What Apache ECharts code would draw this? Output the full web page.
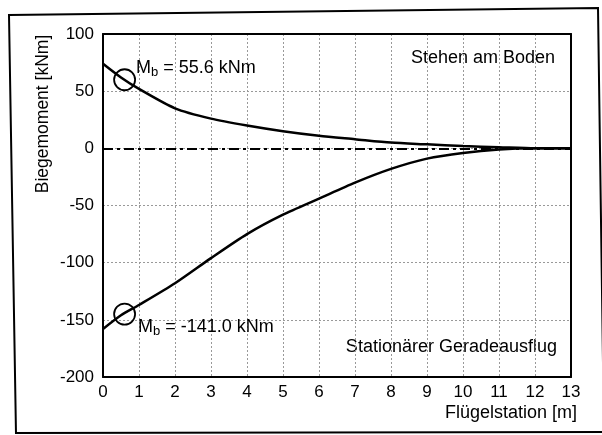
<!DOCTYPE html>
<html>
<head>
<meta charset="utf-8">
<script src="https://cdn.jsdelivr.net/npm/echarts@6/dist/echarts.min.js"></script>
<style>html,body{margin:0;padding:0;background:#fff;}#c{width:602px;height:435px;}</style>
</head>
<body>
<div id="c"></div>
<script>
// Data
const stations = [0, 0.5, 1, 2, 3, 4, 5, 6, 7, 8, 9, 10, 11, 12, 13];
const standingMoment = [74, 62, 52, 35, 26, 20, 15, 11, 8, 5, 3.5, 2, 1, 0, 0];
const flightMoment = [-158, -146, -137, -118, -96, -75, -58, -44, -30, -18, -9, -4, -1, 0, 0];
const markerStation = 0.6;
const markerStanding = 60;
const markerFlight = -145;
const xTicks = [0,1,2,3,4,5,6,7,8,9,10,11,12,13];
const yTicks = [-200,-150,-100,-50,0,50,100];
const labelStanding = 'Stehen am Boden';
const labelFlight = 'Stationärer Geradeausflug';

const FONT = '"Liberation Sans", Arial, sans-serif';
const INK = '#000';
const chart = echarts.init(document.getElementById('c'), null, {renderer: 'canvas'});

const rich = {
  a: {fontSize: 18, fontFamily: FONT, color: INK},
  s: {fontSize: 13, fontFamily: FONT, color: INK, padding: [9, 0, 0, 0]}
};

const gridLine = {show: true, lineStyle: {color: '#999', type: [2, 2], width: 1}};

chart.setOption({
  backgroundColor: '#fff',
  animation: false,
  grid: {left: 103, right: 31, top: 34, bottom: 58, show: false},
  xAxis: [{
    type: 'value', min: 0, max: 13, interval: 1,
    axisLine: {show: true, onZero: false, lineStyle: {color: INK, width: 2}},
    axisTick: {show: false},
    axisLabel: {fontSize: 17, fontFamily: FONT, color: INK, margin: 7,
      formatter: v => xTicks.includes(v) ? String(v) : ''},
    splitLine: gridLine
  }, {
    type: 'value', min: 0, max: 13, interval: 1, position: 'top',
    axisLine: {show: true, onZero: false, lineStyle: {color: INK, width: 2}},
    axisTick: {show: false}, axisLabel: {show: false}, splitLine: {show: false}
  }],
  yAxis: [{
    type: 'value', min: -200, max: 100, interval: 50,
    axisLine: {show: true, onZero: false, lineStyle: {color: INK, width: 2}},
    axisTick: {show: false},
    axisLabel: {fontSize: 17, fontFamily: FONT, color: INK, margin: 9,
      formatter: v => yTicks.includes(v) ? String(v) : ''},
    splitLine: gridLine
  }, {
    type: 'value', min: -200, max: 100, interval: 50, position: 'right',
    axisLine: {show: true, onZero: false, lineStyle: {color: INK, width: 2}},
    axisTick: {show: false}, axisLabel: {show: false}, splitLine: {show: false}
  }],
  series: [
    {
      name: labelStanding, type: 'line', symbol: 'none', smooth: 0.25,
      data: stations.map((x, i) => [x, standingMoment[i]]),
      lineStyle: {color: INK, width: 2.5},
      markLine: {
        silent: true, symbol: 'none', label: {show: false},
        lineStyle: {color: INK, width: 1.8, type: [10, 4, 3, 4]},
        data: [{yAxis: 0}]
      },
      z: 3
    },
    {
      name: labelFlight, type: 'line', symbol: 'none', smooth: 0.25,
      data: stations.map((x, i) => [x, flightMoment[i]]),
      lineStyle: {color: INK, width: 2.5},
      z: 3
    },
    {
      type: 'scatter', symbol: 'circle', symbolSize: 21,
      itemStyle: {color: 'rgba(0,0,0,0)', borderColor: INK, borderWidth: 1.8, opacity: 1},
      emphasis: {disabled: true},
      data: [
        {value: [markerStation, markerStanding],
          label: {show: true, position: 'right', distance: 0, offset: [0, -12], color: INK, textBorderWidth: 0,
            formatter: '{a|M}{s|b}{a| = 55.6 kNm}', rich: rich}},
        {value: [markerStation, markerFlight],
          label: {show: true, position: 'right', distance: 0, offset: [2, 13], color: INK, textBorderWidth: 0,
            formatter: '{a|M}{s|b}{a| = -141.0 kNm}', rich: rich}}
      ],
      z: 4
    }
  ],
  graphic: [
    {type: 'polyline', shape: {points: [[16, 434], [9, 15], [598, 8], [604, 434]]},
      style: {stroke: INK, lineWidth: 2, fill: null}, silent: true},
    {type: 'line', shape: {x1: 16, y1: 433, x2: 602, y2: 432},
      style: {stroke: INK, lineWidth: 2}, silent: true},
    {type: 'text', x: 43, y: 114, rotation: Math.PI / 2,
      style: {text: 'Biegemoment [kNm]', font: '17.5px ' + FONT, fill: INK, align: 'center', verticalAlign: 'middle'}},
    {type: 'text', x: 577, y: 413,
      style: {text: 'Flügelstation [m]', font: '18px ' + FONT, fill: INK, align: 'right', verticalAlign: 'middle'}},
    {type: 'text', x: 555, y: 58,
      style: {text: labelStanding, font: '18px ' + FONT, fill: INK, align: 'right', verticalAlign: 'middle'}},
    {type: 'text', x: 557, y: 347,
      style: {text: labelFlight, font: '18px ' + FONT, fill: INK, align: 'right', verticalAlign: 'middle'}}
  ]
});
</script>
</body>
</html>
